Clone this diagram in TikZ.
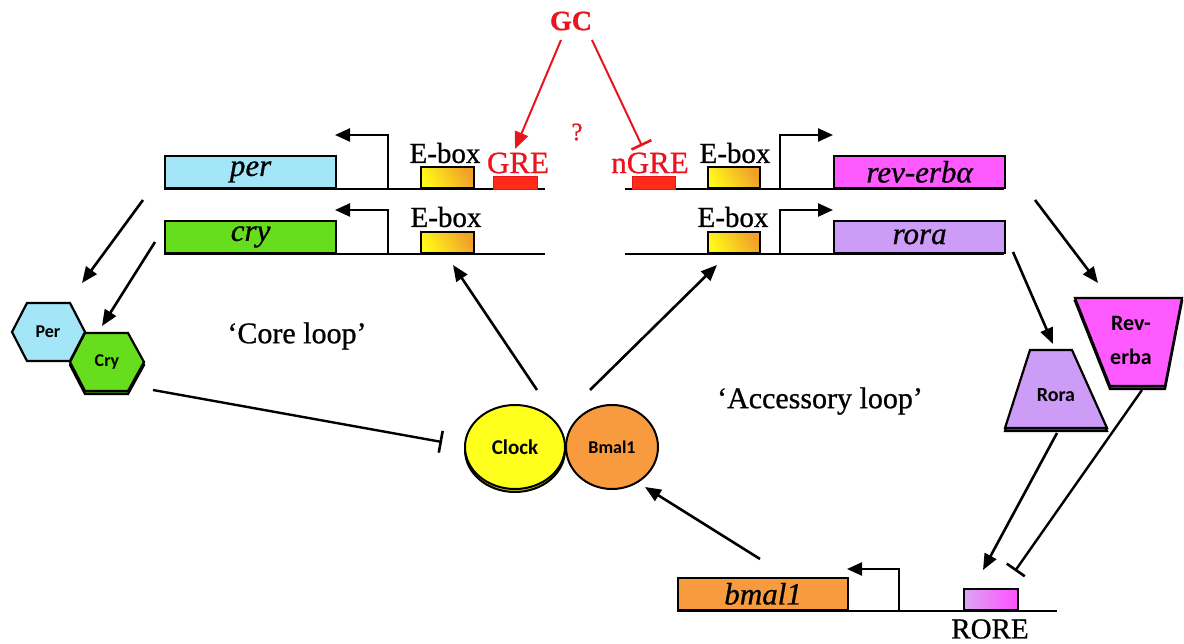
\documentclass[tikz,border=0pt]{standalone}
\usepackage{fontspec}
\setmainfont{Liberation Serif}[FakeBold=0.8]
\newfontfamily\protfont{Carlito}
\usetikzlibrary{arrows.meta,shapes.geometric}
\definecolor{percol}{HTML}{A3E6F7}
\definecolor{crycol}{HTML}{66DE1E}
\definecolor{revcol}{HTML}{FF5AFF}
\definecolor{roracol}{HTML}{CC9CF6}
\definecolor{bmalcol}{HTML}{F89B3E}
\definecolor{clockcol}{HTML}{FFFF1E}
\definecolor{gcred}{HTML}{E8141E}
\definecolor{grefill}{HTML}{FF2A1A}
\definecolor{eyel}{HTML}{FFF81A}
\definecolor{eorg}{HTML}{F0A028}
\definecolor{rorel}{HTML}{D9A6F2}
\definecolor{rorer}{HTML}{FF50FF}
\tikzset{
  dna/.style={line width=2.2pt},
  genebox/.style={draw, line width=2.2pt, rectangle, inner sep=0pt, anchor=south west,
     minimum height=32pt, font=\fontsize{31}{33}\selectfont\itshape},
  ebox/.style={draw, line width=1.8pt, rectangle, inner sep=0pt, anchor=south west,
     minimum width=53pt, minimum height=21pt, left color=eyel, right color=eorg, shading angle=120},
  grebox/.style={draw=gcred, fill=grefill, rectangle, inner sep=0pt, anchor=south west,
     minimum width=44pt, minimum height=13pt},
  prom/.style={line width=2.4pt, -{Triangle[length=15pt,width=13pt]}},
  act/.style={line width=2.6pt, -{Triangle[length=16pt,width=13pt]}},
  inh/.style={line width=2.4pt, -{Bar[width=22pt,line width=2.6pt]}},
  lab/.style={font=\fontsize{29}{30}\selectfont, inner sep=0pt},
  redlab/.style={font=\fontsize{31}{32}\selectfont, text=gcred, inner sep=0pt},
  loop/.style={font=\fontsize{30}{32}\selectfont, inner sep=0pt},
  prot/.style={font=\protfont\bfseries\fontsize{18}{20}\selectfont, inner sep=0pt},
  poly/.style={draw, line width=2.2pt, line join=miter},
}
\begin{document}
\begin{tikzpicture}[x=1pt,y=-1pt]
\useasboundingbox (0,0) rectangle (1184,644);

% ---------- top left: per ----------
\draw[dna] (164,189) -- (545,189);
\node[genebox, fill=percol, minimum width=171pt] (per) at (164,189) {per};
\coordinate (perP) at (388,189);
\coordinate (perPend) at (335,135);
\draw[prom] (perP) |- (perPend);
\node[ebox] (perE) at (420,189) {};
\node[lab] (perEl) at (445,153) {E-box};
\node[grebox] (gre) at (493,189) {};
\node[redlab] (grel) at (518,163) {GRE};

% ---------- cry ----------
\draw[dna] (164,254) -- (545,254);
\node[genebox, fill=crycol, minimum width=171pt] (cry) at (164,254) {cry};
\coordinate (cryP) at (388,254);
\coordinate (cryPend) at (335,210);
\draw[prom] (cryP) |- (cryPend);
\node[ebox] (cryE) at (420,254) {};
\node[lab] (cryEl) at (446,217) {E-box};

% ---------- top right: rev-erb ----------
\draw[dna] (625,189) -- (1004,189);
\node[grebox, minimum width=43pt] (ngre) at (632,189) {};
\node[redlab] (ngrel) at (650,163) {nGRE};
\node[ebox, minimum width=52pt] (revE) at (707,189) {};
\node[lab] (revEl) at (735,153) {E-box};
\coordinate (revP) at (780,189);
\coordinate (revPend) at (833,135);
\draw[prom] (revP) |- (revPend);
\node[genebox, fill=revcol, minimum width=171pt] (rev) at (833,189) {rev-erbα};

% ---------- rora ----------
\draw[dna] (625,254) -- (1004,254);
\node[ebox, minimum width=52pt] (roraE) at (707,254) {};
\node[lab] (roraEl) at (733,217) {E-box};
\coordinate (roraP) at (780,254);
\coordinate (roraPend) at (833,210);
\draw[prom] (roraP) |- (roraPend);
\node[genebox, fill=roracol, minimum width=171pt] (rora) at (833,254) {rora};

% ---------- GC ----------
\node[font=\fontsize{28}{30}\selectfont\bfseries, text=gcred, inner sep=0pt] (gc) at (571,21) {GC};
\coordinate (gcL) at (561,40);
\coordinate (gcR) at (592,40);
\coordinate (greTop) at (515,149);
\coordinate (ngreTop) at (642,146);
\draw[act, line width=2pt, draw=gcred, fill=gcred, -{Triangle[length=17pt,width=14pt]}] (gcL) -- (greTop);
\draw[inh, draw=gcred, line width=2pt] (gcR) -- (ngreTop);
\node[font=\fontsize{25}{27}\selectfont, text=gcred, inner sep=0pt] (q) at (577,132) {?};

% ---------- Per / Cry hexagons ----------
\draw[poly, fill=percol] (12,332) -- (27,303) -- (70,303) -- (85,332) -- (70,361) -- (27,361) -- cycle;
\node[prot] (perp) at (48,332) {Per};
\draw[poly, fill=crycol!60!black] (70,365) -- (85,336) -- (128,336) -- (144,365) -- (128,394) -- (85,394) -- cycle;
\draw[poly, fill=crycol] (70,362) -- (85,333) -- (128,333) -- (144,362) -- (128,391) -- (85,391) -- cycle;
\node[prot] (cryp) at (107,362) {Cry};

\coordinate (perOut) at (143,200);
\coordinate (perIn) at (82,283);
\draw[act] (perOut) -- (perIn);
\coordinate (cryOut) at (155,242);
\coordinate (cryIn) at (102,326);
\draw[act] (cryOut) -- (cryIn);

% ---------- loops text ----------
\node[loop] (core) at (297,336) {‘Core loop’};
\node[loop] (acc) at (820,401) {‘Accessory loop’};

% ---------- Clock / Bmal1 ----------
\node[draw, line width=2pt, ellipse, fill=clockcol!75!black, minimum width=100pt, minimum height=84pt] (clocksh) at (515,450) {};
\node[draw, line width=2pt, ellipse, fill=clockcol, minimum width=100pt, minimum height=84pt, prot, font=\protfont\bfseries\fontsize{21}{22}\selectfont] (clock) at (515,447) {Clock};
\node[draw, line width=2pt, ellipse, fill=bmalcol, minimum width=92pt, minimum height=84pt, prot] (bmalp) at (612,447) {Bmal1};

\coordinate (cryHexOut) at (153,390);
\coordinate (clockInh) at (442,442);
\draw[inh] (cryHexOut) -- (clockInh);

\coordinate (clkL) at (537,390);
\coordinate (clkR) at (590,390);
\coordinate (cryEin) at (453,265);
\coordinate (roraEin) at (717,265);
\draw[act] (clkL) -- (cryEin);
\draw[act] (clkR) -- (roraEin);

% ---------- Rora / Rev-erba trapezoids ----------
\draw[poly, fill=roracol!50!black] (1030,353) -- (1072,353) -- (1107,431) -- (1005,431) -- cycle;
\draw[poly, fill=roracol] (1030,350) -- (1072,350) -- (1107,428) -- (1005,428) -- cycle;
\node[prot, font=\protfont\bfseries\fontsize{20}{22}\selectfont] (rorap) at (1056,395) {Rora};
\draw[poly, fill=revcol!50!black] (1075,301) -- (1182,301) -- (1165,389) -- (1110,389) -- cycle;
\draw[poly, fill=revcol] (1075,298) -- (1182,298) -- (1165,386) -- (1110,386) -- cycle;
\node[prot, font=\protfont\bfseries\fontsize{22}{34}\selectfont, align=center] (revp) at (1131,340) {Rev-\\erba};

\coordinate (revOut) at (1035,200);
\coordinate (revIn) at (1098,283);
\draw[act] (revOut) -- (revIn);
\coordinate (roraOut) at (1013,252);
\coordinate (roraIn) at (1053,344);
\draw[act] (roraOut) -- (roraIn);

% ---------- bmal1 gene ----------
\draw[dna] (677,611) -- (1057,611);
\node[genebox, fill=bmalcol, minimum width=170pt] (bmal) at (677,611) {bmal1};
\coordinate (bmalP) at (899,611);
\coordinate (bmalPend) at (847,569);
\draw[prom] (bmalP) |- (bmalPend);
\node[draw, line width=1.8pt, rectangle, inner sep=0pt, anchor=south west, minimum width=54pt, minimum height=21pt,
      left color=rorel, right color=rorer] (rore) at (963,611) {};
\node[lab, font=\fontsize{29}{30}\selectfont] (rorel) at (990,629) {RORE};

\coordinate (roraPout) at (1057,433);
\coordinate (roreA) at (983,570);
\draw[act] (roraPout) -- (roreA);
\coordinate (revPout) at (1142,390);
\coordinate (roreI) at (1015,571);
\draw[inh] (revPout) -- (roreI);

\coordinate (bmalOut) at (760,559);
\coordinate (bmalIn) at (645,487);
\draw[act] (bmalOut) -- (bmalIn);
\end{tikzpicture}
\end{document}
